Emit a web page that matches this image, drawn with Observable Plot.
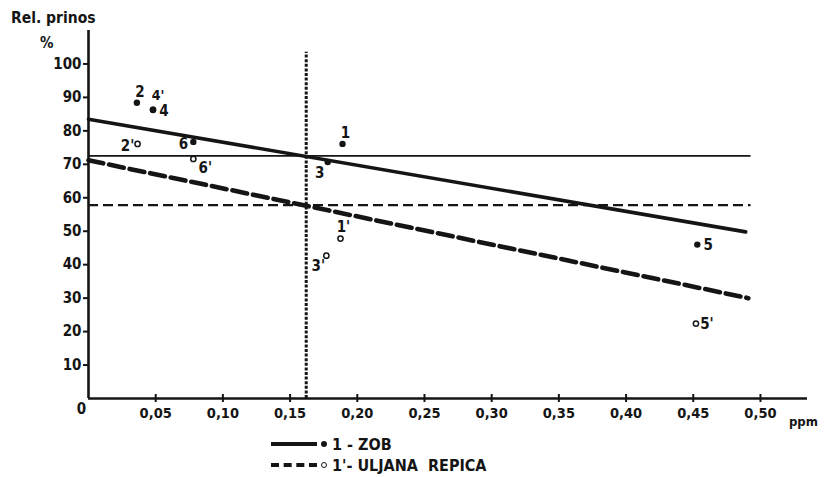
<!DOCTYPE html>
<html>
<head>
<meta charset="utf-8">
<script src="https://cdn.jsdelivr.net/npm/d3@7"></script>
<script src="https://cdn.jsdelivr.net/npm/@observablehq/plot@0.6"></script>
<style>
  html, body { margin: 0; padding: 0; background: #fff; }
  #fig { position: relative; width: 830px; height: 477px; overflow: hidden;
         font-family: "DejaVu Sans Condensed", "Liberation Sans Narrow", "DejaVu Sans", sans-serif;
         font-weight: bold; color: #151515; }
  #fig svg { position: absolute; left: 0; top: 0; }
  .lbl { position: absolute; white-space: nowrap; line-height: 1; }
  .leg { position: absolute; left: 271px; height: 18px; display: flex; align-items: center; font-size: 16px; }
  .swatch { width: 46px; height: 0; margin-right: 4px; }
  .dotf { width: 6px; height: 6px; border-radius: 50%; background: #151515; margin-right: 5px; }
  .doto { width: 4px; height: 4px; border-radius: 50%; border: 1.5px solid #151515; margin-right: 5px; }
</style>
</head>
<body>
<div id="fig"></div>
<script>
// ---- data ----
const xTicks = [0.05, 0.10, 0.15, 0.20, 0.25, 0.30, 0.35, 0.40, 0.45, 0.50];
const yTicks = [10, 20, 30, 40, 50, 60, 70, 80, 90, 100];

// ZOB (oats), filled points
const zobIds = ["1", "2", "3", "4", "5", "6"];
const zobX   = [0.189, 0.036, 0.178, 0.048, 0.453, 0.078];
const zobY   = [76.1, 88.4, 70.7, 86.3, 46.0, 76.7];

// ULJANA REPICA (rapeseed), open points
const repIds = ["1'", "2'", "3'", "4'", "5'", "6'"];
const repX   = [0.1875, 0.0365, 0.177, 0.048, 0.452, 0.078];
const repY   = [47.8, 76.1, 42.7, 86.3, 22.4, 71.6];

// regression lines (endpoints)
const zobLineX = [0, 0.489];
const zobLineY = [83.5, 49.8];
const repLineX = [0, 0.491];
const repLineY = [71.2, 30.0];

// reference levels
const zobLevel = 72.5;
const repLevel = 57.8;
const levelEnd = 0.493;
const thresholdX = 0.162;
const thresholdTop = 103.5;

// ---- build tables ----
const zob = zobIds.map((id, i) => ({id, x: zobX[i], y: zobY[i]}));
const rep = repIds.map((id, i) => ({id, x: repX[i], y: repY[i]}));
const zobLine = zobLineX.map((x, i) => ({x, y: zobLineY[i]}));
const repLine = repLineX.map((x, i) => ({x, y: repLineY[i]}));

// label placement groups (layout only)
const above = ["1", "2", "1'"];
const right = ["4", "5", "5'"];
const left  = ["6", "2'"];
const belowLeft = ["3", "3'"];
const belowRight = ["6'"];
const aboveRight = ["4'"];
const pick = (arr, ids) => arr.filter(d => ids.includes(d.id));
const allPts = zob.concat(rep);

const fmt = d => d.toFixed(2).replace(".", ",");
const ink = "#151515";
const fontFamily = '"DejaVu Sans Condensed", "Liberation Sans Narrow", "DejaVu Sans", sans-serif';

const chart = Plot.plot({
  width: 830,
  height: 477,
  marginLeft: 88,
  marginRight: 23,
  marginTop: 30,
  marginBottom: 79,
  x: {domain: [0, 0.535]},
  y: {domain: [0, 110]},
  style: {fontFamily, fontWeight: "bold", fontSize: "14px", color: ink, background: "white", overflow: "visible"},
  marks: [
    // axes
    Plot.axisY({ticks: yTicks, tickSize: 5, tickPadding: 2, tickFormat: d => d, label: null, stroke: ink, strokeWidth: 2, fontSize: 15}),
    Plot.axisX({ticks: xTicks, tickFormat: fmt, tickSize: 0, tickPadding: 9, label: null, fontSize: 14.5}),
    Plot.ruleX(xTicks, {y1: -1.2, y2: 1.2, stroke: ink, strokeWidth: 2}),
    Plot.text([0], {x: d => d, frameAnchor: "bottom", dy: 15, dx: -7, text: () => "0", fontSize: 15}),
    Plot.ruleY([0], {stroke: ink, strokeWidth: 2.6}),
    Plot.ruleX([0], {y1: 0, y2: 110, stroke: ink, strokeWidth: 2.6}),

    // threshold vertical dotted line
    Plot.ruleX([thresholdX], {y1: 0, y2: thresholdTop, stroke: ink, strokeWidth: 3, strokeDasharray: "3,1.6"}),

    // reference levels
    Plot.ruleY([zobLevel], {x1: 0, x2: levelEnd, stroke: ink, strokeWidth: 1.8}),
    Plot.ruleY([repLevel], {x1: 0, x2: levelEnd, stroke: ink, strokeWidth: 2.4, strokeDasharray: "10,5"}),

    // regression lines
    Plot.line(zobLine, {x: "x", y: "y", stroke: ink, strokeWidth: 3.6, strokeLinecap: "round"}),
    Plot.line(repLine, {x: "x", y: "y", stroke: ink, strokeWidth: 4.6, strokeDasharray: "15,6"}),

    // points
    Plot.dot(rep, {x: "x", y: "y", r: 2.6, fill: "white", stroke: ink, strokeWidth: 1.5}),
    Plot.dot(zob, {x: "x", y: "y", r: 3.2, fill: ink}),

    // point labels
    Plot.text(pick(allPts, above), {x: "x", y: "y", text: "id", dy: -11, dx: 3, fontSize: 15}),
    Plot.text(pick(allPts, right), {x: "x", y: "y", text: "id", dx: 11, dy: 1, fontSize: 15}),
    Plot.text(pick(allPts, left), {x: "x", y: "y", text: "id", dx: -10, dy: 2, fontSize: 15}),
    Plot.text(pick(allPts, belowLeft), {x: "x", y: "y", text: "id", dx: -8, dy: 11, fontSize: 15}),
    Plot.text(pick(allPts, belowRight), {x: "x", y: "y", text: "id", dx: 12, dy: 9, fontSize: 15}),
    Plot.text(pick(allPts, aboveRight), {x: "x", y: "y", text: "id", dx: 5, dy: -14, fontSize: 14})
  ]
});

const fig = document.getElementById("fig");
fig.appendChild(chart);

function addLabel(text, left, top, size) {
  const el = document.createElement("div");
  el.className = "lbl";
  el.textContent = text;
  el.style.left = left + "px";
  el.style.top = top + "px";
  el.style.fontSize = size + "px";
  fig.appendChild(el);
}
addLabel("Rel. prinos", 11, 11, 15.5);
addLabel("%", 40, 36, 15);
addLabel("ppm", 789, 415, 13);

// legend
const legendItems = [
  {label: "1 - ZOB", dash: false, filled: true, top: 435},
  {label: "1'- ULJANA  REPICA", dash: true, filled: false, top: 456}
];
for (const it of legendItems) {
  const row = document.createElement("div");
  row.className = "leg";
  row.style.top = it.top + "px";
  const sw = document.createElement("div");
  sw.className = "swatch";
  sw.style.borderTop = it.dash ? "4px dashed " + ink : "4px solid " + ink;
  const dt = document.createElement("div");
  dt.className = it.filled ? "dotf" : "doto";
  const tx = document.createElement("span");
  tx.textContent = it.label;
  tx.style.whiteSpace = "pre";
  row.appendChild(sw); row.appendChild(dt); row.appendChild(tx);
  fig.appendChild(row);
}
</script>
</body>
</html>
